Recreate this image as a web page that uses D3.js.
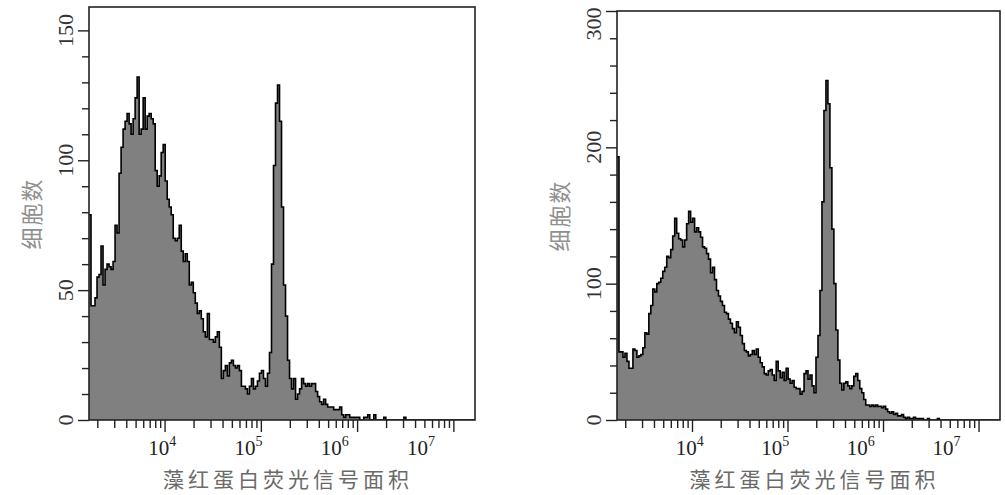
<!DOCTYPE html>
<html><head><meta charset="utf-8">
<script src="https://cdn.jsdelivr.net/npm/d3@7"></script>
<style>body{margin:0;background:#fff} svg{display:block}</style>
</head><body><svg id="c" width="1005" height="495"></svg>
<script>
// ---- data ----
const xDomain = [1640, 16777215];           // fluorescence area axis range (log)
const binsPerDecade = 48;
const xLabelValues = [1e4, 1e5, 1e6, 1e7];
const xLabelExponents = ["4", "5", "6", "7"];
const leftYMajor = [0, 50, 100, 150];
const rightYMajor = [0, 100, 200, 300];
const yTitle = "细胞数";
const xTitle = "藻红蛋白荧光信号面积";

const leftCounts = [
  79,44,44,47,55,56,67,52,58,60,
  59,58,61,75,72,95,105,112,115,118,
  114,110,116,124,132,110,112,124,112,117,
  118,116,114,96,90,94,103,106,92,85,
  82,79,70,69,70,75,65,61,64,61,
  52,53,49,45,41,42,39,34,32,41,
  31,31,30,32,34,28,16,19,21,17,
  22,23,21,20,21,19,13,13,12,10,
  13,16,12,13,15,18,19,16,13,18,
  26,60,98,122,129,115,82,52,40,23,
  16,12,16,8,10,12,16,14,13,14,
  13,14,14,11,9,7,6,8,6,5,
  5,5,4,4,4,5,2,1,2,2,
  1,1,1,1,1,0,0,1,1,2,
  0,0,2,0,0,0,0,1,0,0,
  0,0,0,0,0,0,0,1,0,0,
  0,0,0,0,0,0,0,0,0,0,
  0,0,0,0,0,0,0,0,0,0,
  0,0,0,0,0,0,0,0,0,0,
  0,0,0
];
const rightCounts = [
  193,50,50,46,49,43,38,38,52,51,
  46,47,48,53,64,63,78,84,96,94,
  100,101,104,109,112,120,119,125,135,148,
  137,133,132,127,132,144,153,145,148,138,
  141,138,134,127,126,122,118,108,112,103,
  95,91,87,84,79,78,74,71,67,64,
  72,68,62,56,51,50,47,48,51,48,
  52,46,42,39,34,33,36,37,33,29,
  43,36,31,35,29,38,30,27,29,24,
  23,23,19,21,34,36,30,33,25,20,
  46,62,95,160,227,249,232,185,140,100,
  66,44,27,22,27,28,25,23,25,32,
  34,29,23,20,15,11,11,10,11,10,
  11,10,10,9,10,8,6,5,6,4,
  5,3,3,4,2,1,2,1,1,2,
  1,1,1,1,0,0,1,0,0,0,
  0,1,0,0,0,0,0,0,0,0,
  0,0,0,0,0,0,0,0,0,0,
  0,0,0,0,0,0,0,0,0,0,
  0,0,0
];

// ---- layout ----
const charts = [
  {id:"L", left:89, right:475, top:7, bottom:420, yMax:159, yStep:10, yMajor:leftYMajor, counts:leftCounts},
  {id:"R", left:617, right:1000, top:11, bottom:420, yMax:300, yStep:20, yMajor:rightYMajor, counts:rightCounts}
];

const svg = d3.select("#c");
const serif = "'Liberation Serif','DejaVu Serif',serif";
const cjk = "'Noto Sans CJK SC','Noto Sans CJK JP',sans-serif";

function drawChart(cfg) {
  const g = svg.append("g");
  const x = d3.scaleLog().domain(xDomain).range([cfg.left, cfg.right]);
  const y = d3.scaleLinear().domain([0, cfg.yMax]).range([cfg.bottom, cfg.top]);
  const l0 = Math.log10(xDomain[0]);
  const bins = cfg.counts.map((c, i) => ({x0: Math.pow(10, l0 + i / binsPerDecade), c}));
  bins.push({x0: xDomain[1], c: cfg.counts[cfg.counts.length - 1]});
  const cx = d => x(Math.min(d.x0, xDomain[1]));

  const clipId = "clip" + cfg.id;
  svg.append("clipPath").attr("id", clipId).append("rect")
    .attr("x", cfg.left).attr("y", cfg.top)
    .attr("width", cfg.right - cfg.left).attr("height", cfg.bottom - cfg.top);

  const area = d3.area().x(cx).y0(y(0)).y1(d => y(d.c)).curve(d3.curveStepAfter);
  const line = d3.line().x(cx).y(d => y(d.c)).curve(d3.curveStepAfter);
  g.append("path").datum(bins).attr("d", area).attr("fill", "#808080")
    .attr("clip-path", `url(#${clipId})`);
  g.append("path").datum(bins).attr("d", line).attr("fill", "none")
    .attr("stroke", "#000").attr("stroke-width", 1.6).attr("stroke-linejoin", "miter")
    .attr("clip-path", `url(#${clipId})`);

  // frame
  g.append("rect").attr("x", cfg.left).attr("y", cfg.top)
    .attr("width", cfg.right - cfg.left).attr("height", cfg.bottom - cfg.top)
    .attr("fill", "none").attr("stroke", "#222").attr("stroke-width", 1.6);

  // x ticks
  const allX = x.ticks().filter(v => v >= xDomain[0] && v <= xDomain[1]);
  const isMajor = v => Math.abs(Math.log10(v) - Math.round(Math.log10(v))) < 1e-9;
  const minorX = allX.filter(v => !isMajor(v));
  const majorX = allX.filter(isMajor);
  const styleAxis = sel => {
    sel.select(".domain").remove();
    sel.selectAll(".tick line").attr("stroke", "#222").attr("stroke-width", 1.4);
  };
  g.append("g").attr("transform", `translate(0,${cfg.bottom})`)
    .call(d3.axisBottom(x).tickValues(minorX).tickSize(8).tickFormat(""))
    .call(styleAxis);
  g.append("g").attr("transform", `translate(0,${cfg.bottom})`)
    .call(d3.axisBottom(x).tickValues(majorX).tickSize(12).tickFormat(""))
    .call(styleAxis);

  // x tick labels (drawn where the original software placed them)
  const W = cfg.right - cfg.left;
  const xl = d3.scaleLog().domain([1e4, 1e7]).range([cfg.left + 0.19 * W, cfg.left + 0.86 * W]);
  xLabelValues.forEach((v, i) => {
    const t = g.append("text").attr("x", xl(v)).attr("y", cfg.bottom + 35)
      .attr("text-anchor", "middle").attr("font-family", serif)
      .attr("font-size", 21).attr("fill", "#222");
    t.append("tspan").text("10");
    t.append("tspan").attr("font-size", 14).attr("dy", -9).text(xLabelExponents[i]);
  });

  // y ticks
  const yAll = d3.range(0, cfg.yMax + 0.001, cfg.yStep);
  const yMinor = yAll.filter(v => !cfg.yMajor.includes(v));
  g.append("g").attr("transform", `translate(${cfg.left},0)`)
    .call(d3.axisLeft(y).tickValues(yMinor).tickSize(7).tickFormat(""))
    .call(styleAxis);
  g.append("g").attr("transform", `translate(${cfg.left},0)`)
    .call(d3.axisLeft(y).tickValues(cfg.yMajor).tickSize(11).tickFormat(""))
    .call(styleAxis);
  cfg.yMajor.forEach(v => {
    g.append("text")
      .attr("transform", `translate(${cfg.left - 16},${Math.max(y(v), 24)}) rotate(-90)`)
      .attr("text-anchor", "middle").attr("font-family", serif)
      .attr("font-size", 22).attr("fill", "#333").text(v);
  });

  // titles
  g.append("text")
    .attr("transform", `translate(${cfg.left - 49},${(cfg.top + cfg.bottom) / 2}) rotate(-90)`)
    .attr("text-anchor", "middle").attr("font-family", cjk)
    .attr("font-size", 22).attr("letter-spacing", 2).attr("fill", "#8f8f8f").text(yTitle);
  g.append("text")
    .attr("x", (cfg.left + cfg.right) / 2 + 6).attr("y", 487)
    .attr("text-anchor", "middle").attr("font-family", cjk)
    .attr("font-size", 21).attr("letter-spacing", 4).attr("fill", "#6a6a6a").text(xTitle);
}

charts.forEach(drawChart);
</script></body></html>
